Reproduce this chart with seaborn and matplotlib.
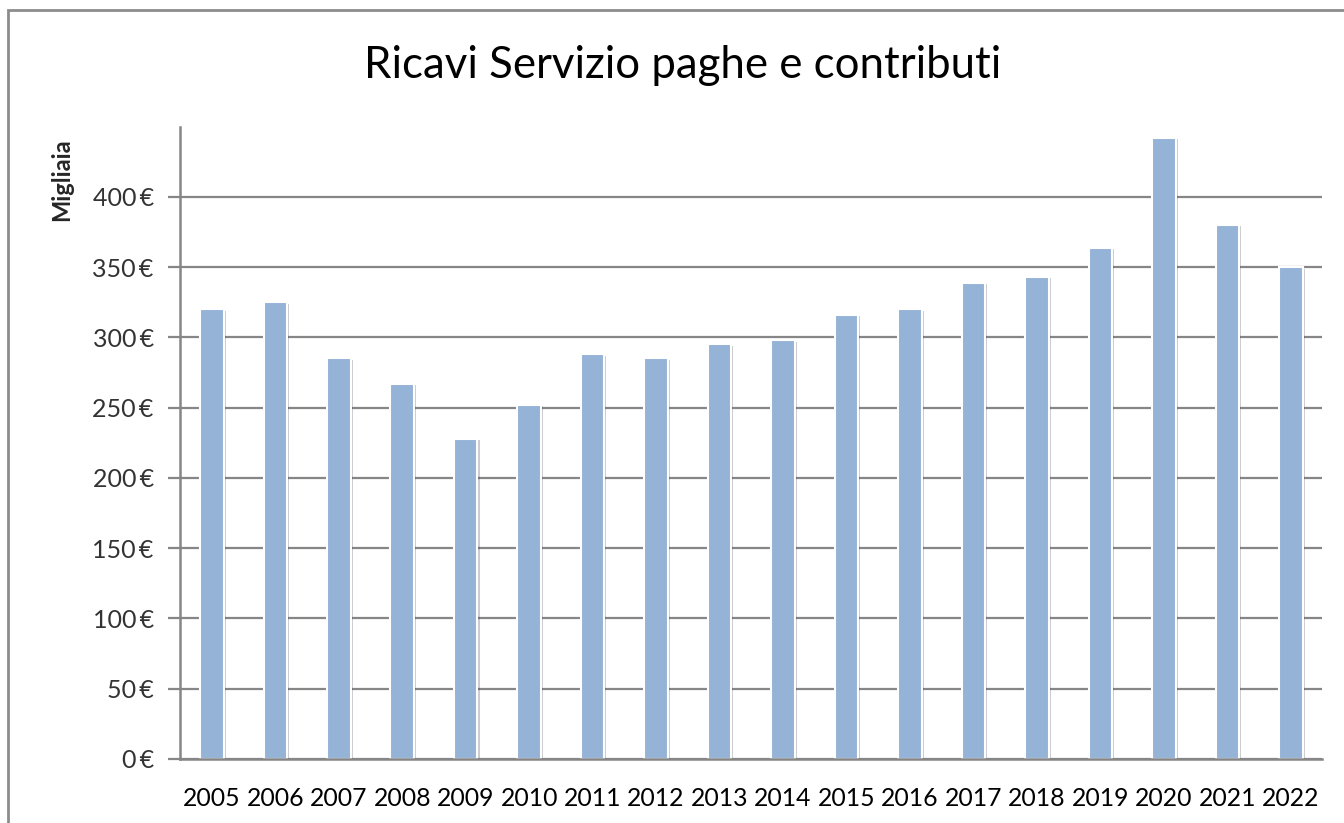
import matplotlib
matplotlib.use("Agg")
import matplotlib.pyplot as plt
import matplotlib.patheffects as pe
from matplotlib.patches import Rectangle
import seaborn as sns
import pandas as pd

# dati (migliaia di euro)
anni = ["2005", "2006", "2007", "2008", "2009", "2010", "2011", "2012", "2013",
        "2014", "2015", "2016", "2017", "2018", "2019", "2020", "2021", "2022"]
ricavi = [320, 325, 285, 267, 228, 252, 288, 285, 295,
          298, 316, 320, 339, 343, 364, 442, 380, 350]
y_ticks = [0, 50, 100, 150, 200, 250, 300, 350, 400]

df = pd.DataFrame({"Anno": anni, "Ricavi": ricavi})

sns.set_style("white")
plt.rcParams["font.family"] = ["Lato", "DejaVu Sans"]

fig = plt.figure(figsize=(13.44, 8.23), dpi=100)
ax = fig.add_axes([0.134, 0.078, 0.850, 0.768])

grigio = "#868686"
for v in y_ticks:
    ax.axhline(v, color=grigio, lw=1.6, zorder=0)

sns.barplot(data=df, x="Anno", y="Ricavi", color="#95B3D7", width=0.37,
            edgecolor="white", linewidth=1.5, saturation=1, ax=ax, zorder=2)
for p in ax.patches:
    p.set_path_effects([pe.SimplePatchShadow(offset=(1.5, -1.0), alpha=0.25), pe.Normal()])

ax.set_ylim(0, 450)
ax.set_xlim(-0.5, len(anni) - 0.5)
ax.set_yticks(y_ticks)
ax.set_yticklabels([f"{v}\u2009€" for v in y_ticks])
ax.tick_params(axis="y", length=9, width=1.6, color=grigio, direction="out",
               labelsize=18, labelcolor="#333333", pad=10, left=True)
ax.tick_params(axis="x", length=0, labelsize=17.8, labelcolor="black", pad=20)

for s in ["top", "right"]:
    ax.spines[s].set_visible(False)
for s in ["left", "bottom"]:
    ax.spines[s].set_color(grigio)
    ax.spines[s].set_linewidth(1.8)

ax.set_xlabel("")
ax.set_ylabel("Migliaia", fontsize=17, fontweight="bold")
ax.yaxis.set_label_coords(-0.094, 0.916)

fig.text(0.508, 0.921, "Ricavi Servizio paghe e contributi", ha="center",
         va="center", fontsize=31.5, color="black")

# cornice del grafico
fig.patches.append(Rectangle((8 / 1344, -0.1), 1.2, 1.1 - 10 / 823,
                             transform=fig.transFigure, fill=False,
                             edgecolor="#8c8c8c", linewidth=2))

fig.savefig("out.png", dpi=100)
